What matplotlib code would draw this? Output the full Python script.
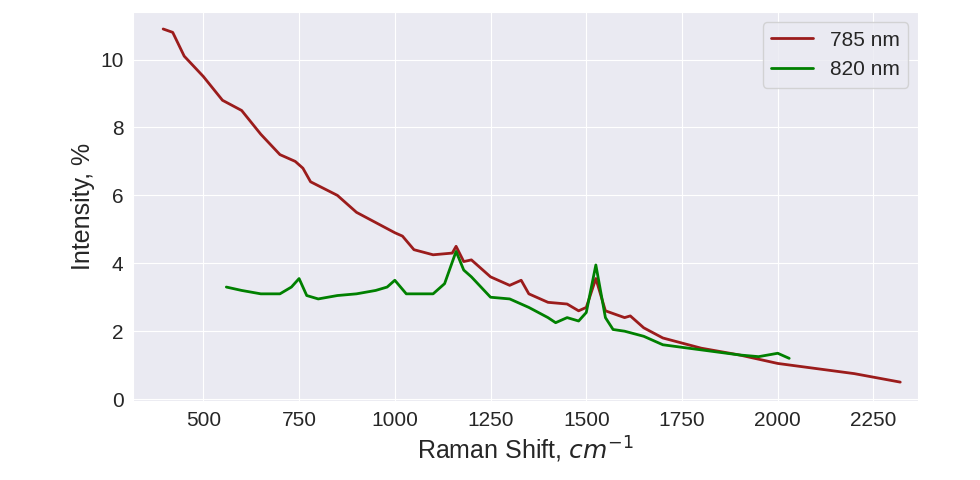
import matplotlib
matplotlib.use("Agg")
import matplotlib.pyplot as plt
import seaborn as sns

shift_785 = [395, 420, 450, 500, 550, 600, 650, 700, 740, 760, 780, 850, 900, 950, 1000, 1020,
             1050, 1100, 1150, 1160, 1180, 1200, 1250, 1300, 1330, 1350, 1400, 1450, 1480, 1500,
             1525, 1550, 1600, 1615, 1650, 1700, 1800, 1900, 2000, 2100, 2200, 2320]
int_785 = [10.9, 10.8, 10.1, 9.5, 8.8, 8.5, 7.8, 7.2, 7.0, 6.8, 6.4, 6.0, 5.5, 5.2, 4.9, 4.8,
           4.4, 4.25, 4.3, 4.5, 4.05, 4.1, 3.6, 3.35, 3.5, 3.1, 2.85, 2.8, 2.6, 2.7,
           3.55, 2.6, 2.4, 2.45, 2.1, 1.8, 1.5, 1.3, 1.05, 0.9, 0.75, 0.5]

shift_820 = [560, 600, 650, 700, 730, 750, 770, 800, 850, 900, 950, 980, 1000, 1030, 1100, 1130,
             1160, 1180, 1200, 1250, 1300, 1350, 1400, 1420, 1450, 1480, 1500, 1525, 1550, 1570,
             1600, 1650, 1700, 1800, 1900, 1950, 2000, 2030]
int_820 = [3.3, 3.2, 3.1, 3.1, 3.3, 3.55, 3.05, 2.95, 3.05, 3.1, 3.2, 3.3, 3.5, 3.1, 3.1, 3.4,
           4.35, 3.8, 3.6, 3.0, 2.95, 2.7, 2.4, 2.25, 2.4, 2.3, 2.55, 3.95, 2.4, 2.05,
           2.0, 1.85, 1.6, 1.45, 1.3, 1.25, 1.35, 1.2]

sns.set_style("darkgrid")
plt.rcParams['font.family'] = ['Liberation Sans', 'DejaVu Sans']
fig, ax = plt.subplots(figsize=(9.8, 4.8), dpi=100)
ax.plot(shift_785, int_785, color="#9b1c1c", linewidth=2, label="785 nm")
ax.plot(shift_820, int_820, color="green", linewidth=2, label="820 nm")
ax.set_xlim(317, 2367)
ax.set_ylim(-0.05, 11.4)
ax.set_xticks([500, 750, 1000, 1250, 1500, 1750, 2000, 2250])
ax.set_xlabel("Raman Shift, $cm^{-1}$", fontsize=18)
ax.set_ylabel("Intensity, %", fontsize=18)
ax.tick_params(labelsize=15)
ax.legend(fontsize=15, loc="upper right")
fig.subplots_adjust(left=0.136, right=0.937, top=0.975, bottom=0.165)
fig.savefig("out.png")
